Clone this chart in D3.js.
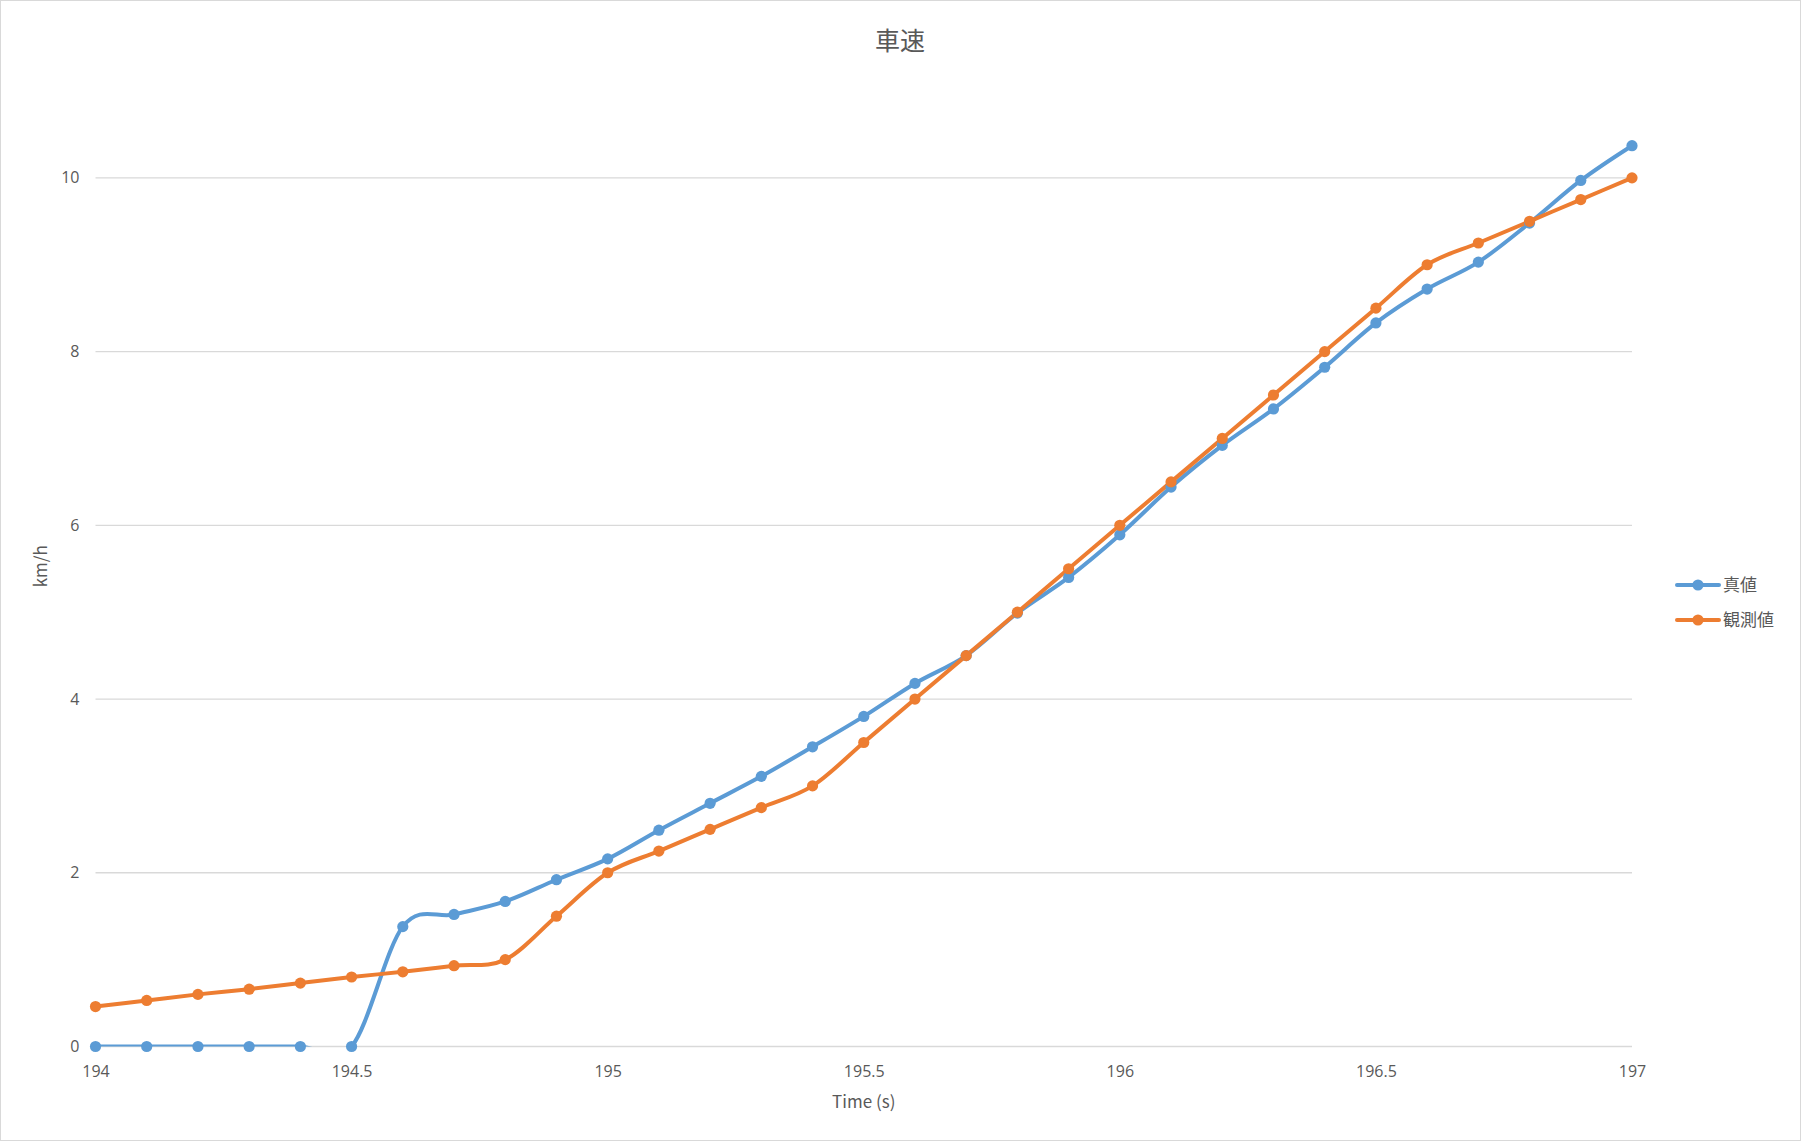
<!DOCTYPE html>
<html>
<head>
<meta charset="utf-8">
<script src="https://cdn.jsdelivr.net/npm/d3@7"></script>
<style>
  html, body { margin: 0; padding: 0; background: #fff; }
  svg { display: block; font-family: "Noto Sans CJK JP", "Noto Sans", sans-serif; }
</style>
</head>
<body>
<svg id="chart" width="1801" height="1141"></svg>
<script>
const title = "車速";
const xTitle = "Time (s)";
const yTitle = "km/h";
const seriesNames = ["真値", "観測値"];
const seriesColors = ["#5B9BD5", "#ED7D31"];
const times = [194.0,194.1,194.2,194.3,194.4,194.5,194.6,194.7,194.8,194.9,
               195.0,195.1,195.2,195.3,195.4,195.5,195.6,195.7,195.8,195.9,
               196.0,196.1,196.2,196.3,196.4,196.5,196.6,196.7,196.8,196.9,197.0];
const trueValues = [0,0,0,0,0,0,1.38,1.52,1.67,1.92,
                    2.16,2.49,2.80,3.11,3.45,3.80,4.18,4.50,4.99,5.40,
                    5.89,6.44,6.92,7.34,7.82,8.33,8.72,9.03,9.48,9.97,10.37];
const observedValues = [0.46,0.53,0.60,0.66,0.73,0.80,0.86,0.93,1.00,1.50,
                        2.00,2.25,2.50,2.75,3.00,3.50,4.00,4.50,5.00,5.50,
                        6.00,6.50,7.00,7.50,8.00,8.50,9.00,9.25,9.50,9.75,10.00];
const xTicks = [194, 194.5, 195, 195.5, 196, 196.5, 197];
const yTicks = [0, 2, 4, 6, 8, 10];

const svg = d3.select("#chart");
const W = 1801, H = 1141;

svg.append("rect").attr("x", 0.5).attr("y", 0.5).attr("width", W - 1).attr("height", H - 1)
  .attr("fill", "#fff").attr("stroke", "#D9D9D9").attr("stroke-width", 1);

const plot = { left: 95.5, right: 1632, top: 91, bottom: 1046.5 };
const x = d3.scaleLinear().domain([194, 197]).range([plot.left, plot.right]);
const y = d3.scaleLinear().domain([0, 11]).range([plot.bottom, plot.top]);

// gridlines
svg.append("g").selectAll("line").data(yTicks).join("line")
  .attr("x1", plot.left).attr("x2", plot.right)
  .attr("y1", d => y(d)).attr("y2", d => y(d))
  .attr("stroke", "#D9D9D9").attr("stroke-width", 1.3);

// y axis labels
const yAxis = d3.axisLeft(y).tickValues(yTicks).tickSize(0).tickPadding(0).tickFormat(d3.format("d"));
const gy = svg.append("g").attr("transform", `translate(${plot.left - 16},0)`).call(yAxis);
gy.select(".domain").remove();
gy.selectAll("text").attr("fill", "#595959").style("font-size", "16px")
  .style("font-family", "'Open Sans', 'Noto Sans', sans-serif");

// x axis labels
const xAxis = d3.axisBottom(x).tickValues(xTicks).tickSize(0).tickPadding(0).tickFormat(d => String(d));
const gx = svg.append("g").attr("transform", `translate(0,${plot.bottom + 19})`).call(xAxis);
gx.select(".domain").remove();
gx.selectAll("text").attr("fill", "#595959").style("font-size", "16px")
  .style("font-family", "'Open Sans', 'Noto Sans', sans-serif");

// titles
svg.append("text").attr("x", 900).attr("y", 50).attr("text-anchor", "middle")
  .attr("fill", "#595959").style("font-size", "25px").text(title);
svg.append("text").attr("x", (plot.left + plot.right) / 2).attr("y", 1108).attr("text-anchor", "middle")
  .attr("fill", "#595959").style("font-size", "17px").text(xTitle);
svg.append("text").attr("transform", `translate(47,${(86 + plot.bottom) / 2}) rotate(-90)`)
  .attr("text-anchor", "middle").attr("fill", "#595959").style("font-size", "17px").text(yTitle);

// clip
svg.append("defs").append("clipPath").attr("id", "plotclip").append("rect")
  .attr("x", plot.left - 10).attr("y", 0).attr("width", plot.right - plot.left + 20)
  .attr("height", plot.bottom);

const line = d3.line().x(d => x(d[0])).y(d => y(d[1])).curve(d3.curveCardinal.tension(0));
const allSeries = [trueValues, observedValues];

allSeries.forEach((vals, i) => {
  const pts = times.map((t, j) => [t, vals[j]]);
  svg.append("path").datum(pts).attr("d", line)
    .attr("fill", "none").attr("stroke", seriesColors[i]).attr("stroke-width", 4)
    .attr("stroke-linejoin", "round").attr("stroke-linecap", "round")
    .attr("clip-path", "url(#plotclip)");
});
allSeries.forEach((vals, i) => {
  const pts = times.map((t, j) => [t, vals[j]]);
  svg.append("g").selectAll("circle").data(pts).join("circle")
    .attr("cx", d => x(d[0])).attr("cy", d => y(d[1])).attr("r", 5.6)
    .attr("fill", seriesColors[i]);
});

// legend
const legend = svg.append("g");
const legendY = [585, 620];
seriesNames.forEach((name, i) => {
  legend.append("line").attr("x1", 1677).attr("x2", 1719).attr("y1", legendY[i]).attr("y2", legendY[i])
    .attr("stroke", seriesColors[i]).attr("stroke-width", 4).attr("stroke-linecap", "round");
  legend.append("circle").attr("cx", 1698).attr("cy", legendY[i]).attr("r", 5.6).attr("fill", seriesColors[i]);
  legend.append("text").attr("x", 1723).attr("y", legendY[i]).attr("dy", "0.35em")
    .attr("fill", "#595959").style("font-size", "17px").text(name);
});
</script>
</body>
</html>
